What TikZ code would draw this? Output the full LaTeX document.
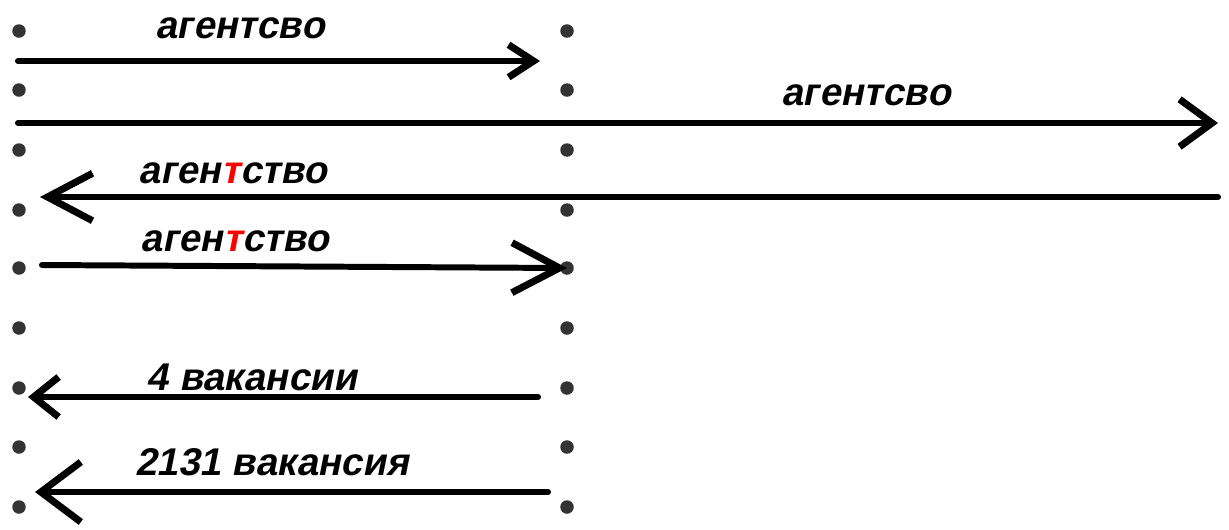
\documentclass[tikz,border=0pt]{standalone}
\usepackage{fontspec}
\setmainfont{Liberation Sans}
\newfontfamily\lblfont[FakeSlant=0.2]{Liberation Sans}
\usetikzlibrary{arrows.meta}

\begin{document}
\begin{tikzpicture}[line cap=round,line join=round,x=0.02cm,y=-0.02cm,
  dot/.style={circle,fill=black!80,inner sep=0pt,minimum size=0.27cm},
  msg/.style={line width=3.4pt},
  lbl/.style={font=\fontsize{22}{26}\lblfont\bfseries}]
\useasboundingbox (0,0) rectangle (1229,529);
% two columns of dots
\foreach \i/\y in {1/31,2/90,3/150,4/210,5/268,6/328,7/388,8/447,9/507}
  {\node[dot] (l\i) at (19,\y) {};
   \node[dot] (m\i) at (567,\y) {};}
% arrow ends
\coordinate (a1s) at (18,61);   \coordinate (a1e) at (540,61);
\coordinate (a2s) at (18,123);  \coordinate (a2e) at (1218,123);
\coordinate (a3s) at (1218,197);\coordinate (a3e) at (40,197);
\coordinate (a4s) at (42,265);  \coordinate (a4e) at (567,268);
\coordinate (a5s) at (538,397); \coordinate (a5e) at (28,397);
\coordinate (a6s) at (548,492); \coordinate (a6e) at (35,492);
% messages
\draw[msg,-{Straight Barb[length=0.5cm,width=0.65cm,line width=4pt]}] (a1s) -- (a1e);
\draw[msg,-{Straight Barb[length=0.65cm,width=0.95cm,line width=4pt]}] (a2s) -- (a2e);
\draw[msg,-{Straight Barb[length=0.9cm,width=0.95cm,line width=4pt]}] (a3s) -- (a3e);
\draw[msg,-{Straight Barb[length=0.95cm,width=1.0cm,line width=4pt]}] (a4s) -- (a4e);
\draw[msg,-{Straight Barb[length=0.5cm,width=0.8cm,line width=4pt]}] (a5s) -- (a5e);
\draw[msg,-{Straight Barb[length=0.8cm,width=1.2cm,line width=4pt]}] (a6s) -- (a6e);
% labels
\node[lbl] (t1) at (240,28) {агентсво};
\node[lbl] (t2) at (866,95) {агентсво};
\node[lbl] (t3) at (233,173) {аген\textcolor{red}{т}ство};
\node[lbl] (t4) at (235,241) {аген\textcolor{red}{т}ство};
\node[lbl] (t5) at (252,377) {4 вакансии};
\node[lbl] (t6) at (272,462) {2131 вакансия};
\end{tikzpicture}
\end{document}
